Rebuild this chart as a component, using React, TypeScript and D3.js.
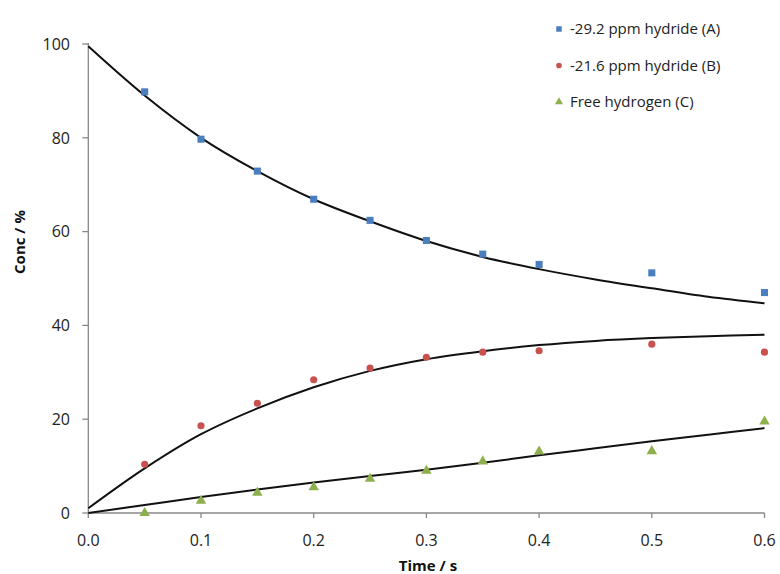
import React from "react";
import * as d3 from "d3";

const times = [0.05, 0.1, 0.15, 0.2, 0.25, 0.3, 0.35, 0.4, 0.5, 0.6];
const hydrideA = [89.8, 79.7, 72.9, 66.9, 62.4, 58.1, 55.2, 53.0, 51.2, 47.0];
const hydrideB = [10.4, 18.6, 23.4, 28.4, 30.9, 33.2, 34.3, 34.6, 36.0, 34.3];
const freeH2 = [0.0, 2.6, 4.3, 5.5, 7.3, 9.0, 11.0, 13.1, 13.2, 19.5];

const fitTimes = [0, 0.05, 0.1, 0.15, 0.2, 0.25, 0.3, 0.35, 0.4, 0.45, 0.5, 0.55, 0.6];
const fitA = [99.5, 89.0, 80.0, 72.9, 66.9, 62.2, 58.0, 54.6, 52.0, 49.8, 47.9, 46.1, 44.7];
const fitB = [1.0, 9.5, 16.8, 22.3, 26.8, 30.3, 32.8, 34.5, 35.8, 36.7, 37.3, 37.7, 38.0];
const fitC = [0, 1.7, 3.4, 5.0, 6.5, 7.9, 9.2, 10.7, 12.3, 13.8, 15.3, 16.7, 18.1];

const xTicks = [0, 0.1, 0.2, 0.3, 0.4, 0.5, 0.6];
const yTicks = [0, 20, 40, 60, 80, 100];

const legendLabels = ["-29.2 ppm hydride (A)", "-21.6 ppm hydride (B)", "Free hydrogen (C)"];
const colors = ["#4A7EBF", "#C9514E", "#8DB04C"];

const FONT = "'Open Sans', 'Liberation Sans', sans-serif";

export default function App() {
  const x = d3.scaleLinear().domain([0, 0.6]).range([88.3, 764.5]);
  const y = d3.scaleLinear().domain([0, 100]).range([513, 44]);
  const line = d3
    .line<number>()
    .x((_, i) => x(fitTimes[i]))
    .y((d) => y(d))
    .curve(d3.curveCatmullRom.alpha(0.5));

  const axisColor = "#888888";
  const sq = d3.symbol().type(d3.symbolSquare).size(50)();
  const circ = d3.symbol().type(d3.symbolCircle).size(40)();
  const tri = d3.symbol().type(d3.symbolTriangle).size(48)();

  return (
    <div style={{ position: "absolute", left: 0, top: 0 }}>
      <svg width={780} height={574} style={{ display: "block", background: "#fff" }} fontFamily={FONT}>
        {/* axes */}
        <line x1={x(0)} x2={x(0)} y1={y(100) - 1} y2={y(0)} stroke={axisColor} strokeWidth={1.3} />
        <line x1={x(0)} x2={x(0.6)} y1={y(0)} y2={y(0)} stroke={axisColor} strokeWidth={1.3} />
        {yTicks.map((t) => (
          <g key={"y" + t}>
            <line x1={x(0) - 6} x2={x(0)} y1={y(t)} y2={y(t)} stroke={axisColor} strokeWidth={1.3} />
            <text x={70} y={y(t)} dy="0.36em" textAnchor="end" fontSize={16} fill="#222">
              {t}
            </text>
          </g>
        ))}
        {xTicks.map((t) => (
          <g key={"x" + t}>
            <line x1={x(t)} x2={x(t)} y1={y(0)} y2={y(0) + 5} stroke={axisColor} strokeWidth={1.3} />
            <text x={x(t)} y={546} textAnchor="middle" fontSize={16} fill="#222">
              {d3.format(".1f")(t)}
            </text>
          </g>
        ))}
        <text x={428} y={571} textAnchor="middle" fontSize={15} fontWeight="bold" fill="#111">
          Time / s
        </text>
        <text
          transform={`translate(25,242) rotate(-90)`}
          textAnchor="middle"
          fontSize={15}
          fontWeight="bold"
          fill="#111"
        >
          Conc / %
        </text>

        {/* fit curves */}
        {[fitA, fitB, fitC].map((s, i) => (
          <path key={"f" + i} d={line(s) || ""} fill="none" stroke="#111" strokeWidth={2} />
        ))}

        {/* data points */}
        {times.map((t, i) => (
          <path key={"a" + i} d={sq || ""} transform={`translate(${x(t)},${y(hydrideA[i])})`} fill={colors[0]} />
        ))}
        {times.map((t, i) => (
          <path key={"b" + i} d={circ || ""} transform={`translate(${x(t)},${y(hydrideB[i])})`} fill={colors[1]} />
        ))}
        {times.map((t, i) => (
          <path key={"c" + i} d={tri || ""} transform={`translate(${x(t)},${y(freeH2[i])})`} fill={colors[2]} />
        ))}

        {/* legend */}
        {legendLabels.map((lab, i) => {
          const cy = 29 + i * 36.5;
          const sym = [
            d3.symbol().type(d3.symbolSquare).size(30)(),
            d3.symbol().type(d3.symbolCircle).size(25)(),
            d3.symbol().type(d3.symbolTriangle).size(28)(),
          ][i];
          return (
            <g key={"l" + i}>
              <path d={sym || ""} transform={`translate(559,${cy})`} fill={colors[i]} />
              <text x={570} y={cy} dy="0.36em" fontSize={15} fill="#222">
                {lab}
              </text>
            </g>
          );
        })}
      </svg>
    </div>
  );
}
